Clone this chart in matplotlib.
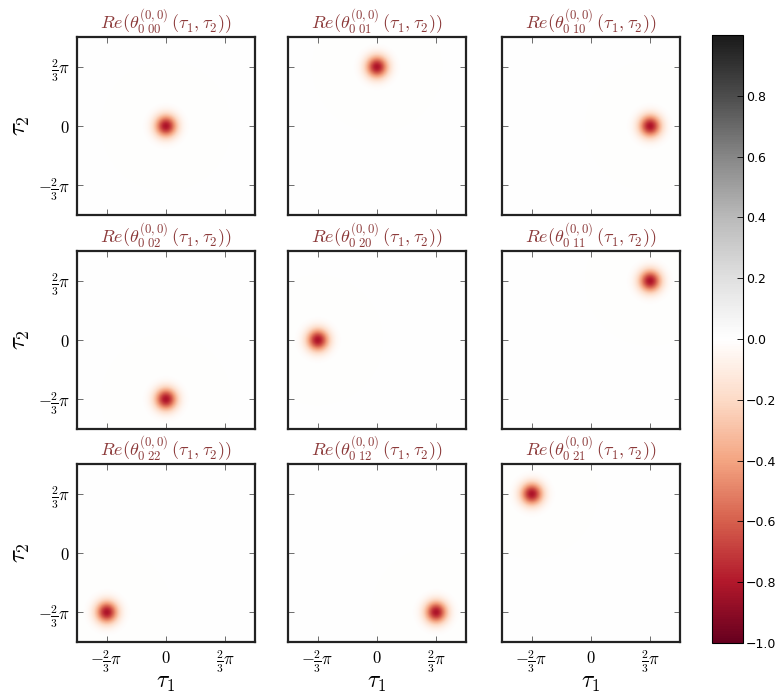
import numpy as np
import matplotlib
matplotlib.use('Agg')
import matplotlib.pyplot as plt

plt.rcParams['mathtext.fontset'] = 'cm'

# subscript index of each mode, row by row
mode_labels = ['00', '01', '10',
               '02', '20', '11',
               '22', '12', '21']
# centre of each mode in (tau1, tau2), in units of 2*pi/3
mode_tau1 = [0, 0, 1,
             0, -1, 1,
             -1, 1, -1]
mode_tau2 = [0, 1, 0,
             -1, 0, 1,
             -1, -1, 1]
peak_value = -0.82
peak_width = 0.27

tick_values = [-2 * np.pi / 3, 0, 2 * np.pi / 3]
tick_labels = [r'$-\frac{2}{3}\pi$', r'$0$', r'$\frac{2}{3}\pi$']
cbar_ticks = [-1.0, -0.8, -0.6, -0.4, -0.2, 0.0, 0.2, 0.4, 0.6, 0.8]

tau = np.linspace(-np.pi, np.pi, 301)
T1, T2 = np.meshgrid(tau, tau)

fig = plt.figure(figsize=(7.8, 6.95), dpi=100)

col_left = [0.0987, 0.3692, 0.6436]
row_bottom = [0.6906, 0.3827, 0.0763]
ax_w, ax_h = 0.2282, 0.2561

title_color = '#8c3a3a'

for k, lab in enumerate(mode_labels):
    r, c = divmod(k, 3)
    ax = fig.add_axes([col_left[c], row_bottom[r], ax_w, ax_h])
    c1 = mode_tau1[k] * 2 * np.pi / 3
    c2 = mode_tau2[k] * 2 * np.pi / 3
    field = peak_value * np.exp(-((T1 - c1) ** 2 + (T2 - c2) ** 2) / (2 * peak_width ** 2))
    im = ax.imshow(field, extent=[-np.pi, np.pi, -np.pi, np.pi], origin='lower',
                   cmap='RdGy', vmin=-1, vmax=1, interpolation='bilinear')
    ax.set_xlim(-np.pi, np.pi)
    ax.set_ylim(-np.pi, np.pi)
    ax.set_xticks(tick_values)
    ax.set_yticks(tick_values)
    ax.tick_params(direction='in', top=True, right=True, length=4, width=0.6,
                   color='#555555', labelsize=12, pad=5)
    if r == 2:
        ax.set_xticklabels(tick_labels)
        ax.set_xlabel(r'$\tau_1$', fontsize=17)
        ax.xaxis.set_label_coords(0.5, -0.155)
    else:
        ax.set_xticklabels([])
    if c == 0:
        ax.set_yticklabels(tick_labels)
        ax.set_ylabel(r'$\tau_2$', fontsize=18, labelpad=4)
    else:
        ax.set_yticklabels([])
    for s in ax.spines.values():
        s.set_linewidth(1.6)
        s.set_color('#222222')
    ax.set_title(r'$Re(\theta^{(0,0)}_{0\ %s}\,(\tau_1,\tau_2))$' % lab,
                 fontsize=13, color=title_color, pad=5)

cax = fig.add_axes([0.9128, 0.0748, 0.0397, 0.8748])
cb = fig.colorbar(im, cax=cax, ticks=cbar_ticks)
cb.ax.tick_params(direction='in', labelsize=9, length=4, width=0.6, pad=2)
cb.outline.set_linewidth(0.8)

fig.savefig('out.png', dpi=100)
